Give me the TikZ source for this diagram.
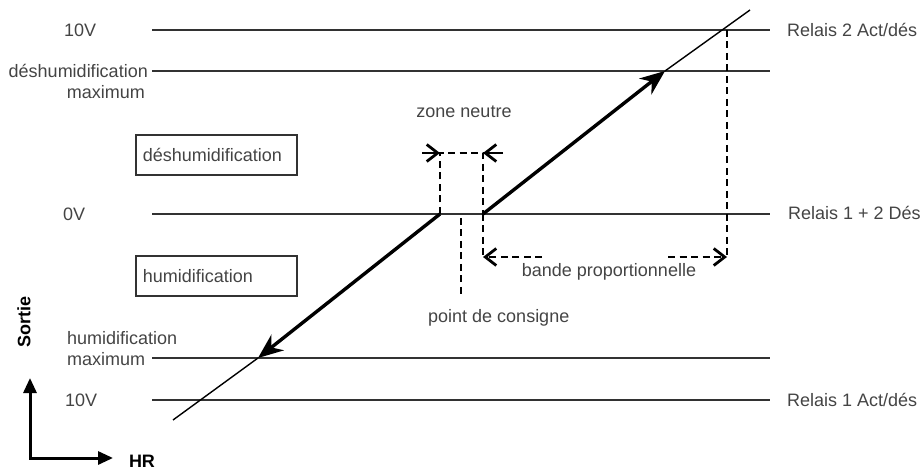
\documentclass[tikz,border=0pt]{standalone}
\usepackage{fontspec}
\setmainfont{Liberation Sans}
\usetikzlibrary{arrows.meta}
\definecolor{txt}{RGB}{68,68,68}
\definecolor{ln}{RGB}{50,50,50}
\begin{document}
\begin{tikzpicture}[x=1pt,y=-1pt,
  lbl/.style={font=\fontsize{18}{21}\selectfont, text=txt, inner sep=0pt},
  bold lbl/.style={font=\fontsize{18}{21}\selectfont\bfseries, text=black, inner sep=0pt},
  level/.style={draw=ln, line width=1.8pt},
  thin diag/.style={draw=black, line width=1.4pt},
  thick arrow/.style={draw=black, line width=3.4pt, -{Stealth[length=25pt,width=20pt,inset=8pt]}},
  dash line/.style={draw=black, line width=2.6pt, dash pattern=on 7pt off 4.5pt},
  barb/.style={-{Straight Barb[length=11pt,width=17pt,line width=2.8pt]}},
  boxnode/.style={lbl, draw=ln, line width=1.8pt, minimum height=40pt, inner xsep=7pt, inner ysep=0pt, text width=147pt, align=left},
  axis arrow/.style={draw=black, line width=3pt, {Triangle[length=15pt,width=13pt]}-{Triangle[length=15pt,width=13pt]}}
]
\useasboundingbox (0,0) rectangle (924,470);

% level lines
\coordinate (T1) at (152,30);  \coordinate (T2) at (770,30);
\coordinate (D1) at (152,71);  \coordinate (D2) at (770,71);
\coordinate (Z1) at (152,214); \coordinate (Z2) at (770,214);
\coordinate (H1) at (152,358); \coordinate (H2) at (770,358);
\coordinate (B1) at (152,400); \coordinate (B2) at (770,400);
\draw[level] (T1) -- (T2);
\draw[level] (D1) -- (D2);
\draw[level] (Z1) -- (Z2);
\draw[level] (H1) -- (H2);
\draw[level] (B1) -- (B2);

% left labels
\node[lbl, anchor=west] (v10t) at (64,30) {10V};
\node[lbl, anchor=east] (dmax1) at (148,71) {déshumidification};
\node[lbl, anchor=east] (dmax2) at (145,92) {maximum};
\node[lbl, anchor=west] (v0) at (63,214) {0V};
\node[lbl, anchor=west] (hmax1) at (67,338) {humidification};
\node[lbl, anchor=west] (hmax2) at (67,359) {maximum};
\node[lbl, anchor=west] (v10b) at (65,400) {10V};

% right labels
\node[lbl, anchor=west] (r2) at (787,30) {Relais 2 Act/dés};
\node[lbl, anchor=west] (r12) at (788,213) {Relais 1 + 2 Dés};
\node[lbl, anchor=west] (r1) at (787,400) {Relais 1 Act/dés};

% boxes
\node[boxnode, anchor=north west] (bdes) at (135,134) {déshumidification};
\node[boxnode, anchor=north west] (bhum) at (135,255) {humidification};

% diagonal
\coordinate (dlow) at (173,420);
\coordinate (hmp) at (258,358);
\coordinate (n1) at (440,214);
\coordinate (n2) at (483,214);
\coordinate (dmp) at (665,71);
\coordinate (dtop) at (750,10);
\draw[thin diag] (dlow) -- (hmp);
\draw[thin diag] (dmp) -- (dtop);
\draw[thick arrow] (n1) -- (hmp);
\draw[thick arrow] (n2) -- (dmp);

% zone neutre
\coordinate (zn1) at (440,153);
\coordinate (zn2) at (483,153);
\coordinate (za) at (422,153);
\coordinate (zb) at (503,153);
\draw[dash line] (n1) -- (zn1) -- (zn2) -- (n2);
\draw[line width=2.6pt, barb] (za) -- (zn1);
\draw[line width=2.6pt, barb] (zb) -- (zn2);
\node[lbl] (zn) at (464,112) {zone neutre};

% point de consigne
\coordinate (pc1) at (461,218);
\coordinate (pc2) at (461,294);
\draw[dash line] (pc1) -- (pc2);
\node[lbl, anchor=west] (pc) at (428,318) {point de consigne};

% bande proportionnelle
\coordinate (rt) at (727,30);
\coordinate (bp1) at (483,257);
\coordinate (bp2) at (727,257);
\coordinate (bpa) at (542,257);
\coordinate (bpb) at (668,257);
\draw[dash line] (n2) -- (bp1);
\draw[dash line] (rt) -- (bp2);
\draw[dash line, barb] (bpa) -- (bp1);
\draw[dash line, barb] (bpb) -- (bp2);
\node[lbl] (bp) at (609,272) {bande proportionnelle};

% axes
\coordinate (ax0) at (30,458);
\coordinate (axy) at (30,378);
\coordinate (axx) at (113,458);
\draw[axis arrow] (axy) -- (ax0) -- (axx);
\node[bold lbl, rotate=90] (sortie) at (24,322) {Sortie};
\node[bold lbl] (hr) at (142,461) {HR};
\end{tikzpicture}
\end{document}
